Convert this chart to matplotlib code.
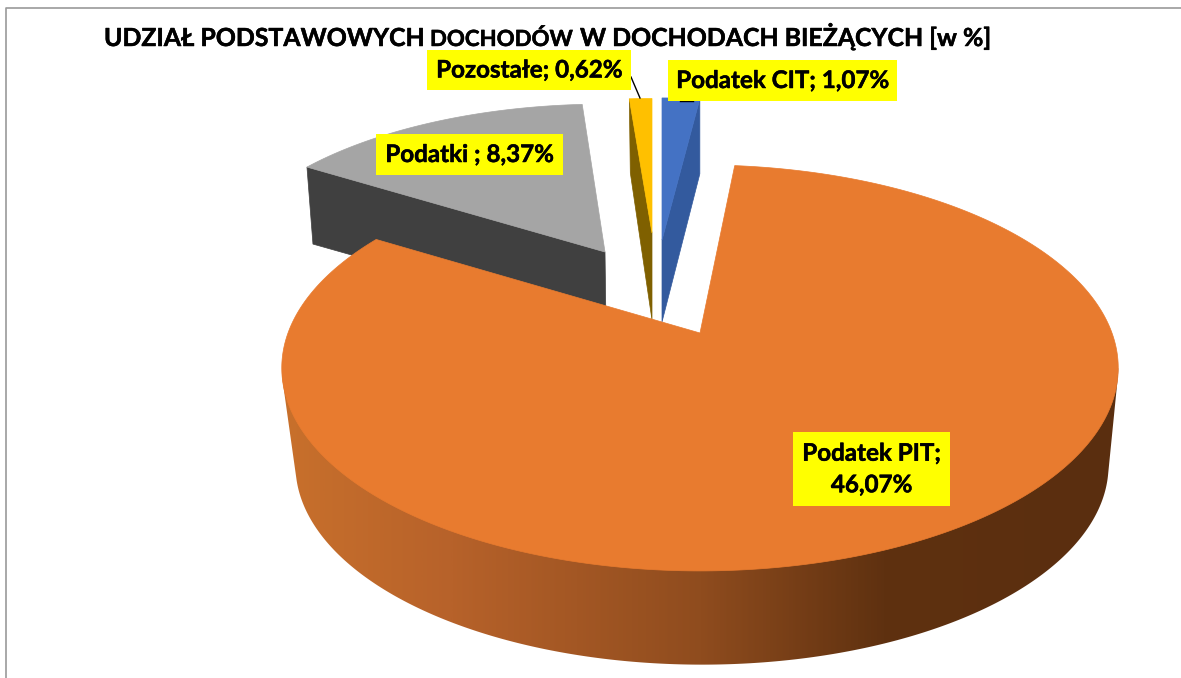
import numpy as np
import matplotlib
matplotlib.use("Agg")
import matplotlib.pyplot as plt
import matplotlib.patheffects as pe
from matplotlib.colors import LinearSegmentedColormap
from matplotlib.patches import Polygon, Rectangle

# dane z wykresu
names = ["Podatek CIT", "Podatek PIT", "Podatki ", "Pozostałe"]
values = [1.07, 46.07, 8.37, 0.62]

plt.rcParams['font.family'] = ['Lato', 'DejaVu Sans']

# rzut perspektywiczny tarczy
K = 0.172
A = 412
B = 197
ARC_STEP = 0.5
PIT_ROT = -1.2

ORANGE = "#E87B2F"
RIM_COLORS = [(0.0, "#C8702C"), (0.2, "#B7622A"), (0.5, "#8F4C1E"), (0.72, "#5F3110"), (1.0, "#5A2E0F")]
BOLD = [pe.withStroke(linewidth=0.35, foreground="black")]


def project(theta, apex, sx=1.0, sy=1.0):
    t = np.radians(theta)
    x = np.sin(t)
    y = np.cos(t)
    w = 1 + K * y
    return np.column_stack([apex[0] + A * sx * x / w, apex[1] - B * sy * y / w])


def arc(t0, t1):
    n = max(2, int(abs(t1 - t0) / ARC_STEP))
    return np.linspace(t0, t1, n)


def hull(points):
    # otoczka wypukla - sylwetka bocznej sciany
    pts = sorted(map(tuple, points))

    def half(seq):
        out = []
        for p in seq:
            while len(out) > 1:
                a = np.subtract(out[-1], out[-2])
                b = np.subtract(p, out[-1])
                if a[0] * b[1] - a[1] * b[0] > 0:
                    break
                out.pop()
            out.append(p)
        return out[:-1]

    return np.array(half(pts) + half(pts[::-1]))


def draw_wedge(ax, t0, t1, apex, sx, sy, color, side_color=None, side_angle=None,
               far_off=(0, 0), apex_off=(0, 0)):
    if side_color is not None:
        corner = project(np.array([side_angle]), apex, sx, sy)[0]
        side = [corner, corner + far_off, np.array(apex) + apex_off, apex]
        ax.add_patch(Polygon(side, closed=True, fc=side_color, ec=side_color, lw=0.5))
    rim = project(arc(t0, t1), apex, sx, sy)
    ax.add_patch(Polygon(np.vstack([[apex], rim]), closed=True, fc=color, ec=color, lw=0.5))


fig = plt.figure(figsize=(11.81, 6.78), dpi=100)
ax = fig.add_axes([0, 0, 1, 1])
ax.set_xlim(0, 1181)
ax.set_ylim(678, 0)
ax.axis("off")

# ramka
ax.plot([6, 6, 1181], [678, 8, 8], color="#9A9A9A", lw=1.2)

shares = np.array(values) / sum(values) * 360
edges = np.concatenate([[0], np.cumsum(shares)])

# Podatki
draw_wedge(ax, edges[2], edges[3], (605, 252), 0.935, 0.88, "#A5A5A5", "#404040", edges[2],
           (6, 77), (1, 75))
# Pozostale
draw_wedge(ax, edges[3], edges[4], (652, 233), 0.93, 0.80, "#FFC000", "#7F6000", edges[3],
           (1, 74), (0, 87))
# CIT
draw_wedge(ax, edges[0], edges[1], (662, 240), 0.90, 0.845, "#4472C4", "#335A9E", edges[1],
           (0, 75), (0, 82))

# PIT - bok z gradientem
pit_apex = (700, 333)
top_rim = project(arc(100, 260), pit_apex)
bottom_rim = project(arc(100, 260), (702, 431), 0.972, 0.982)
side = Polygon(hull(np.vstack([top_rim, bottom_rim])), closed=True, fc="none", ec="none")
ax.add_patch(side)
cmap = LinearSegmentedColormap.from_list("rim", RIM_COLORS)
grad = np.linspace(0, 1, 400).reshape(1, -1)
im = ax.imshow(grad, cmap=cmap, extent=(282, 1120, 680, 300), aspect="auto", zorder=2)
im.set_clip_path(side)
ax.set_xlim(0, 1181)
ax.set_ylim(678, 0)

pit_rim = project(arc(edges[1] + PIT_ROT, edges[2] + PIT_ROT), pit_apex)
ax.add_patch(Polygon(np.vstack([[pit_apex], pit_rim]), closed=True, fc=ORANGE, ec=ORANGE, lw=0.5, zorder=3))

# etykiety
def pct(i):
    return f"{values[i]:.2f}".replace(".", ",") + "%"


def label(x0, y0, x1, y1, text, fs=17.4):
    ax.add_patch(Rectangle((x0, y0), x1 - x0, y1 - y0, fc="#FFFF00", ec="none", zorder=5))
    ax.text((x0 + x1) / 2, (y0 + y1) / 2, text, ha="center", va="center", fontsize=fs,
            fontweight="bold", color="black", zorder=6, linespacing=1.45, path_effects=BOLD)


ax.plot([631, 640], [77, 98], color="black", lw=1, zorder=4)
ax.plot([680, 693], [101, 101], color="black", lw=1, zorder=4)
label(427, 50, 631, 90, f"{names[3]}; {pct(3)}")
label(668, 60, 897, 101, f"{names[0]}; {pct(0)}")
label(376, 134, 563, 175, f"{names[2]}; {pct(2)}")
label(793, 432, 950, 506, f"{names[1]};\n{pct(1)}")

# tytul
ax.text(104, 46, "UDZIAŁ PODSTAWOWYCH", fontsize=17.9, fontweight="bold", va="baseline", ha="left", zorder=7, path_effects=BOLD)
ax.text(430, 46, "DOCHODÓW", fontsize=16, fontweight="bold", va="baseline", ha="left", zorder=7, path_effects=BOLD)
ax.text(580, 46, "W DOCHODACH BIEŻĄCYCH [w %]", fontsize=17.9, fontweight="bold", va="baseline", ha="left", zorder=7, path_effects=BOLD)

fig.savefig("out.png", dpi=100)
